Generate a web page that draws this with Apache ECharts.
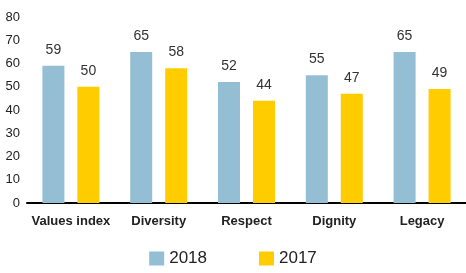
<!DOCTYPE html>
<html>
<head>
<meta charset="utf-8">
<script src="https://cdn.jsdelivr.net/npm/echarts@6/dist/echarts.min.js"></script>
<style>
html, body { margin: 0; padding: 0; background: #fff; }
#chart { width: 466px; height: 273px; }
</style>
</head>
<body>
<div id="chart"></div>
<script>
var categories = ['Values index', 'Diversity', 'Respect', 'Dignity', 'Legacy'];
var values2018 = [59, 65, 52, 55, 65];
var values2017 = [50, 58, 44, 47, 49];
var yTicks = [0, 10, 20, 30, 40, 50, 60, 70, 80];

var myChart = echarts.init(document.getElementById('chart'));
var font = 'Helvetica, Arial, "Liberation Sans", sans-serif';

var option = {
	animation: false,
	textStyle: { fontFamily: font },
	grid: {
		left: 27,
		right: -5,
		top: 17,
		bottom: 70
	},
	legend: {
		data: ['2018', '2017'],
		bottom: 1,
		left: 'center',
		itemWidth: 15,
		itemHeight: 14,
		itemGap: 52,
		icon: 'rect',
		textStyle: { fontSize: 17, color: '#222', fontFamily: font }
	},
	xAxis: {
		type: 'category',
		data: categories,
		axisLine: { lineStyle: { color: '#000', width: 2 } },
		axisTick: { show: false },
		axisLabel: { interval: 0, fontSize: 13, fontWeight: 600, color: '#222', margin: 12 }
	},
	yAxis: {
		type: 'value',
		min: yTicks[0],
		max: yTicks[yTicks.length - 1],
		interval: 10,
		splitLine: { show: false },
		axisLine: { show: false },
		axisTick: { show: false },
		axisLabel: { fontSize: 13, color: '#222', margin: 7 }
	},
	series: [{
		name: '2018',
		type: 'bar',
		data: values2018,
		barWidth: 22,
		barGap: '59%',
		itemStyle: { color: '#94BED4' },
		label: { show: true, position: 'top', distance: 9, fontSize: 14, color: '#333' }
	}, {
		name: '2017',
		type: 'bar',
		data: values2017,
		barWidth: 22,
		itemStyle: { color: '#FFCC00' },
		label: { show: true, position: 'top', distance: 9, fontSize: 14, color: '#333' }
	}]
};

myChart.setOption(option);
</script>
</body>
</html>
